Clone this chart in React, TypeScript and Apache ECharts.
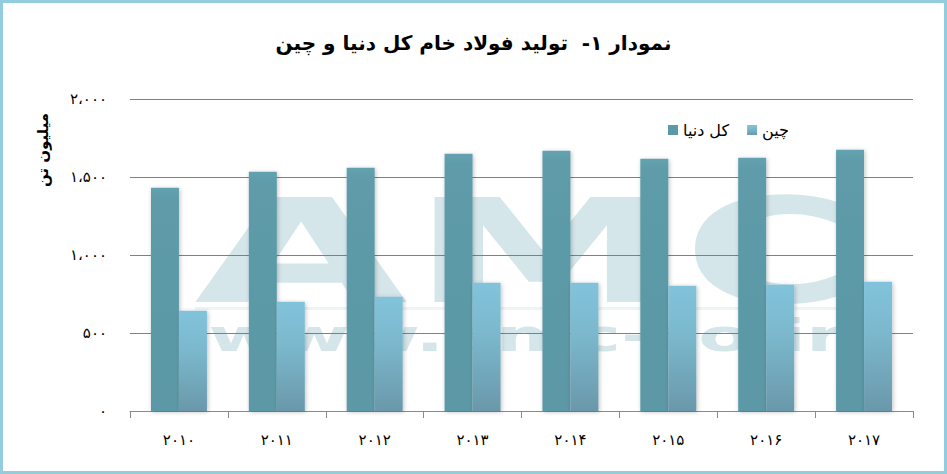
import React, { useEffect, useRef } from "react";
import * as echarts from "echarts";

const categories = ["2010", "2011", "2012", "2013", "2014", "2015", "2016", "2017"];
const worldValues = [1431, 1534, 1560, 1649, 1668, 1617, 1624, 1675];
const chinaValues = [643, 701, 733, 822, 822, 803, 810, 829];
const seriesNames = ["کل دنیا", "چین"];
const titleText = "نمودار ۱-  تولید فولاد خام کل دنیا و چین";
const yAxisTitle = "میلیون تن";
const yTicks = [0, 500, 1000, 1500, 2000];

const FA_DIGITS = "۰۱۲۳۴۵۶۷۸۹";
function toFa(s: string): string {
  return s.replace(/[0-9]/g, (d) => FA_DIGITS[Number(d)]);
}
function fmtNum(v: number): string {
  const s = String(Math.round(v)).replace(/\B(?=(\d{3})+(?!\d))/g, "،");
  return toFa(s);
}

const FONT = "DejaVu Sans";

export default function App() {
  const ref = useRef<HTMLDivElement>(null);
  useEffect(() => {
    if (!ref.current) return;
    const chart = echarts.init(ref.current, undefined, { renderer: "svg" });
    const wm = "rgba(30,124,150,0.19)";
    chart.setOption({
      animation: false,
      title: {
        text: titleText,
        left: "center",
        top: 28,
        textStyle: { fontFamily: FONT, fontSize: 20, fontWeight: "bold", color: "#000" },
      },
      legend: {
        left: 663,
        top: 117,
        itemWidth: 10,
        itemHeight: 10,
        itemGap: 18,
        icon: "rect",
        textStyle: { fontFamily: FONT, fontSize: 16, color: "#000" },
        data: seriesNames,
      },
      grid: { left: 130, right: 34, top: 99, bottom: 63 },
      xAxis: {
        type: "category",
        data: categories,
        axisLine: { lineStyle: { color: "#8a8a8a", width: 1 } },
        axisTick: { show: true, length: 7, lineStyle: { color: "#8a8a8a" } },
        axisLabel: {
          margin: 21,
          fontFamily: FONT,
          fontSize: 15,
          color: "#000",
          formatter: (v: string) => toFa(v),
        },
      },
      yAxis: {
        type: "value",
        min: yTicks[0],
        max: yTicks[yTicks.length - 1],
        interval: 500,
        axisLine: { show: false },
        axisTick: { show: false },
        splitLine: { lineStyle: { color: "#808080", width: 1 } },
        axisLabel: {
          margin: 23,
          fontFamily: FONT,
          fontSize: 15,
          color: "#000",
          formatter: (v: number) => fmtNum(v),
        },
      },
      series: [
        {
          name: seriesNames[0],
          type: "bar",
          data: worldValues,
          barWidth: 28,
          barGap: "0%",
          itemStyle: {
            color: new echarts.graphic.LinearGradient(0, 0, 0, 1, [
              { offset: 0, color: "#64a2b0" },
              { offset: 0.05, color: "#5e9ba9" },
              { offset: 1, color: "#5b98a6" },
            ]),
            shadowBlur: 4,
            shadowOffsetX: 1,
            shadowOffsetY: 1,
            shadowColor: "rgba(0,0,0,0.25)",
          },
        },
        {
          name: seriesNames[1],
          type: "bar",
          data: chinaValues,
          barWidth: 28,
          barGap: "0%",
          itemStyle: {
            color: new echarts.graphic.LinearGradient(0, 0, 0, 1, [
              { offset: 0, color: "#82c3db" },
              { offset: 0.4, color: "#7bb8cd" },
              { offset: 1, color: "#6a98aa" },
            ]),
            shadowBlur: 4,
            shadowOffsetX: 1,
            shadowOffsetY: 1,
            shadowColor: "rgba(0,0,0,0.25)",
          },
        },
      ],
      graphic: [
        {
          type: "text",
          x: 43,
          y: 150,
          rotation: Math.PI / 2,
          style: {
            text: yAxisTitle,
            x: 0,
            y: 0,
            align: "center",
            verticalAlign: "middle",
            fontFamily: FONT,
            fontSize: 15,
            fontWeight: "bold",
            fill: "#000",
          },
        },
        {
          type: "group",
          z: 100,
          silent: true,
          children: [
            {
              type: "text",
              x: 301,
              y: 252,
              scaleX: 1.92,
              style: { text: "A", x: 0, y: 0, align: "center", verticalAlign: "middle", fontFamily: FONT, fontWeight: "bold", fontSize: 144, fill: wm },
            },
            {
              type: "text",
              x: 545,
              y: 252,
              scaleX: 1.89,
              style: { text: "M", x: 0, y: 0, align: "center", verticalAlign: "middle", fontFamily: FONT, fontWeight: "bold", fontSize: 144, fill: wm },
            },
            {
              type: "text",
              x: 768,
              y: 252,
              scaleX: 1.6,
              style: { text: "C", x: 0, y: 0, align: "center", verticalAlign: "middle", fontFamily: FONT, fontWeight: "bold", fontSize: 144, fill: wm },
            },
            {
              type: "rect",
              shape: { x: 195, y: 307, width: 665, height: 3 },
              style: { fill: "rgba(30,124,150,0.08)" },
            },
            {
              type: "text",
              x: 526,
              y: 336,
              scaleX: 1.7,
              style: { text: "www.amc-co.ir", x: 0, y: 0, align: "center", verticalAlign: "middle", fontFamily: FONT, fontWeight: "bold", fontSize: 45, fill: wm },
            },
          ],
        },
      ],
    });
    return () => chart.dispose();
  }, []);
  return (
    <div
      style={{
        position: "absolute",
        left: 0,
        top: 0,
        width: 947,
        height: 474,
        boxSizing: "border-box",
        border: "3px solid #93cddd",
        background: "#fff",
      }}
    >
      <div ref={ref} style={{ position: "absolute", left: -3, top: -3, width: 947, height: 474 }} />
    </div>
  );
}
